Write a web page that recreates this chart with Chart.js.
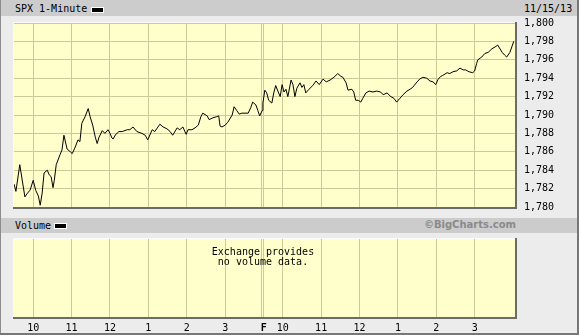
<!DOCTYPE html>
<html>
<head>
<meta charset="utf-8">
<script src="https://cdn.jsdelivr.net/npm/chart.js@4.4.0/dist/chart.umd.min.js"></script>
<style>
  body { margin: 0; background: #ececec; }
  #wrap { position: relative; width: 579px; height: 335px; overflow: hidden; background: #ececec;
          font-family: "DejaVu Sans Mono", monospace; font-size: 10px; color: #000; }
  .bar { position: absolute; left: 1px; width: 576px; background: #cccccc; }
  .txt { position: absolute; line-height: 12px; white-space: pre; }
  .swatch { position: absolute; width: 11px; height: 4px; background: #000; border: 1px solid #fff; }
  canvas { position: absolute; left: 0; }
  #novol { position: absolute; left: 163px; width: 200px; top: 247px; text-align: center; line-height: 10px; }
</style>
</head>
<body>
<div id="wrap">
  <div class="bar" style="top:0;height:16px"></div>
  <div class="txt" style="left:15px;top:3px">SPX 1-Minute</div>
  <div class="swatch" style="left:91px;top:7px"></div>
  <div class="txt" style="left:524px;top:3px">11/15/13</div>

  <canvas id="price" width="579" height="200" style="top:16px"></canvas>

  <div class="bar" style="top:218px;height:15px"></div>
  <div class="txt" style="left:15px;top:220px">Volume</div>
  <div class="swatch" style="left:54px;top:223px"></div>
  <div class="txt" style="left:416px;top:219px;width:100px;text-align:right;font-family:'DejaVu Sans',sans-serif;font-weight:bold;color:#8a8a8a">©BigCharts.com</div>

  <canvas id="vol" width="579" height="100" style="top:233px"></canvas>
  <div id="novol">Exchange provides<br>no volume data.</div>

  <div style="position:absolute;left:0;top:0;width:1px;height:335px;background:#8c8c8c"></div>
  <div style="position:absolute;left:577px;top:0;width:2px;height:335px;background:#777"></div>
  <div style="position:absolute;left:0;top:333px;width:579px;height:2px;background:#777"></div>
</div>
<script>
// minutes since 9:30 open, Thu 11/14 (0-390) then Fri 11/15 (390-780)
const minutes = [
  0,3,9,17,22,25,30,34,38,41,
  44,47,52,55,58,61,63,66,72,75,
  78,83,88,91,95,100,103,106,111,116,
  119,123,127,130,133,138,142,147,150,153,
  155,159,161,164,169,177,181,186,192,200,
  205,209,216,220,228,233,239,244,248,255,
  259,264,269,272,278,283,288,292,295,302,
  305,311,316,320,322,325,330,334,341,344,
  348,352,356,361,366,370,373,378,381,384,
  388,389,392,395,398,403,406,409,413,416,
  419,422,425,428,433,436,439,442,447,450,
  453,456,461,467,472,477,483,488,494,500,
  506,511,514,519,522,528,531,534,538,542,
  545,550,555,561,567,573,577,583,589,594,
  598,603,608,614,619,623,630,634,639,645,
  650,655,659,663,667,670,677,681,686,692,
  697,702,706,711,717,720,723,725,731,736,
  741,747,752,756,763,767,770,775,778,781
];
const prices = [
  1782.5,1781.7,1784.6,1781.1,1781.6,1781.8,1782.9,1781.8,1781.2,1780.2,
  1781.5,1783.7,1784.0,1783.5,1783.3,1782.1,1782.9,1784.6,1785.7,1786.2,
  1787.8,1786.3,1786.0,1785.8,1786.4,1787.3,1787.1,1789.1,1789.8,1790.7,
  1789.8,1788.9,1787.6,1786.9,1787.6,1788.3,1788.0,1788.4,1788.0,1787.5,
  1787.4,1787.9,1788.0,1788.2,1788.2,1788.4,1788.4,1788.7,1788.2,1788.0,
  1787.8,1787.3,1788.4,1788.2,1789.0,1788.7,1788.5,1788.2,1787.8,1788.6,
  1788.4,1788.7,1787.9,1788.4,1788.4,1788.6,1788.9,1789.8,1790.2,1789.9,
  1789.5,1789.7,1789.8,1789.9,1788.8,1788.7,1788.9,1789.2,1790.0,1790.9,
  1790.5,1790.1,1790.2,1790.2,1790.2,1790.8,1791.4,1791.1,1790.5,1789.9,
  1790.5,1791.3,1792.7,1792.4,1791.6,1791.3,1792.4,1793.2,1792.5,1792.0,
  1793.3,1792.5,1792.8,1792.0,1793.8,1793.3,1792.0,1792.9,1793.5,1793.0,
  1793.3,1792.4,1792.8,1793.2,1793.7,1793.3,1793.9,1793.6,1793.8,1794.1,
  1794.5,1794.2,1794.1,1793.5,1792.7,1792.8,1792.5,1791.6,1791.6,1791.4,
  1791.8,1792.4,1792.6,1792.5,1792.6,1792.5,1792.2,1792.4,1792.0,1791.8,
  1791.4,1791.8,1792.2,1792.6,1792.8,1793.0,1793.6,1793.9,1794.1,1794.0,
  1793.7,1793.6,1793.3,1793.9,1794.2,1794.3,1794.6,1794.5,1794.7,1794.8,
  1795.1,1794.9,1794.9,1794.7,1794.6,1794.8,1795.6,1796.0,1796.3,1796.7,
  1796.8,1797.2,1797.4,1797.6,1796.8,1796.5,1796.3,1796.8,1797.4,1798.0
];

const hourTicks  = [30, 90, 150, 210, 270, 330, 387.5, 390.5, 420, 480, 540, 600, 660, 720];
const hourLabels = ["10", "11", "12", "1", "2", "3", "", "F", "10", "11", "12", "1", "2", "3"];
const priceTicks = [1780, 1782, 1784, 1786, 1788, 1790, 1792, 1794, 1796, 1798, 1800];

const gridColor = "#cbcb94";
const plotBg = "#ffffcc";
const monoFont = { family: "DejaVu Sans Mono", size: 10 };

// yellow plot background + inset frame
const panelPlugin = {
  id: "panel",
  beforeDraw(chart) {
    const a = chart.chartArea, ctx = chart.ctx;
    ctx.save();
    ctx.fillStyle = plotBg;
    ctx.fillRect(a.left, a.top, a.right - a.left, a.bottom - a.top);
    ctx.restore();
  },
  afterDraw(chart) {
    const a = chart.chartArea, ctx = chart.ctx;
    ctx.save();
    ctx.fillStyle = "#fafafa";
    ctx.fillRect(a.left - 1, a.top - 1, a.right - a.left + 1, 1);
    ctx.fillRect(a.left - 1, a.top - 1, 1, a.bottom - a.top + 1);
    ctx.fillStyle = "#6b6b6b";
    ctx.fillRect(a.left - 1, a.bottom, a.right - a.left + 3, 2);
    ctx.fillRect(a.right, a.top - 1, 2, a.bottom - a.top + 3);
    ctx.restore();
  }
};

const xGrid = {
  type: "linear", min: 0, max: 783,
  afterBuildTicks: s => { s.ticks = hourTicks.map(v => ({ value: v })); },
  grid: { color: gridColor, drawTicks: false },
  border: { display: false }
};

new Chart(document.getElementById("price"), {
  type: "line",
  data: {
    datasets: [{
      data: minutes.map((m, i) => ({ x: m, y: prices[i] })),
      borderColor: "#000",
      borderWidth: 1,
      pointRadius: 0,
      tension: 0,
      fill: false
    }]
  },
  options: {
    responsive: false,
    animation: false,
    events: [],
    layout: { padding: { left: 14, top: 7, right: 0, bottom: 9 } },
    plugins: { legend: { display: false }, tooltip: { enabled: false } },
    scales: {
      x: Object.assign({}, xGrid, {
        afterFit: s => { s.height = 0; },
        ticks: { display: false }
      }),
      y: {
        position: "right", min: 1780, max: 1800,
        afterBuildTicks: s => { s.ticks = priceTicks.map(v => ({ value: v })); },
        // fixed axis width, and no extra room reserved above/below for labels
        afterFit: s => { s.width = 64; s.paddingTop = 0; s.paddingBottom = 0; },
        ticks: {
          padding: 9, color: "#000", font: monoFont,
          callback: v => v.toLocaleString("en-US")
        },
        grid: { color: gridColor, drawTicks: false },
        border: { display: false }
      }
    }
  },
  plugins: [panelPlugin]
});

new Chart(document.getElementById("vol"), {
  type: "line",
  data: { datasets: [{ data: [] }] },
  options: {
    responsive: false,
    animation: false,
    events: [],
    layout: { padding: { left: 14, top: 6, right: 64, bottom: 0 } },
    plugins: { legend: { display: false }, tooltip: { enabled: false } },
    scales: {
      x: Object.assign({}, xGrid, {
        afterFit: s => { s.height = 16; },
        ticks: {
          autoSkip: false, maxRotation: 0, padding: 5, color: "#000",
          font: c => ({ family: "DejaVu Sans Mono", size: 10,
                        weight: hourLabels[c.index] === "F" ? "bold" : "normal" }),
          callback: (v, i) => hourLabels[i]
        }
      }),
      y: { display: false, min: 0, max: 1 }
    }
  },
  plugins: [panelPlugin]
});
</script>
</body>
</html>
